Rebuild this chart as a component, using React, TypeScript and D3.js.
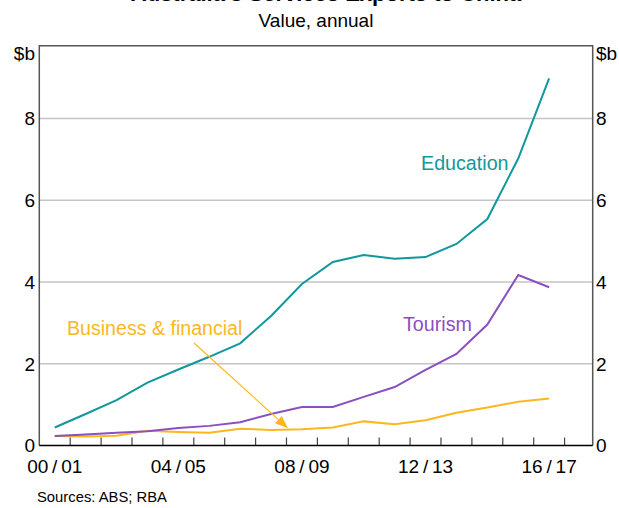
import React from "react";
import * as d3 from "d3";

const years = ["00/01","01/02","02/03","03/04","04/05","05/06","06/07","07/08","08/09","09/10","10/11","11/12","12/13","13/14","14/15","15/16","16/17"];
const education = [0.44,0.77,1.11,1.54,1.86,2.17,2.5,3.17,3.95,4.49,4.66,4.57,4.61,4.93,5.54,7.02,8.98];
const tourism = [0.23,0.27,0.31,0.35,0.43,0.48,0.57,0.77,0.94,0.94,1.19,1.43,1.85,2.24,2.96,4.17,3.87];
const business = [0.23,0.22,0.24,0.36,0.33,0.31,0.41,0.38,0.4,0.44,0.59,0.52,0.62,0.8,0.93,1.07,1.15];
const yTicks = [0,2,4,6,8];
const xLabelIdx = [0,4,8,12,16];

const W = 619, H = 508;
const left = 39.3, right = 592.7, top = 45.7, bottom = 445.5;
const font = "Arial, 'Liberation Sans', sans-serif";
const TEAL = "#12979d", PURPLE = "#8a4fc0", ORANGE = "#fdb71e";

export default function App() {
  const x = d3.scaleLinear().domain([0, 17.91]).range([left, right]);
  const y = d3.scaleLinear().domain([0, 9.78]).range([bottom, top]);
  const line = d3.line<number>().x((_, i) => x(i + 0.5)).y(d => y(d));
  const fmt = (s: string) => s.replace("/", "\u2009/\u2009");
  const tickIdx = d3.range(1, 18);
  // arrow geometry
  const ax1 = 194, ay1 = 343, ax2 = x(8.05), ay2 = y(0.42);
  const ang = Math.atan2(ay2 - ay1, ax2 - ax1);
  const hl = 13, hw = 5;
  const bx = ax2 - hl * Math.cos(ang), by = ay2 - hl * Math.sin(ang);
  const head = `${ax2},${ay2} ${bx + hw * Math.sin(ang)},${by - hw * Math.cos(ang)} ${bx - hw * Math.sin(ang)},${by + hw * Math.cos(ang)}`;
  return (
    <svg width={W} height={H} style={{ position: "absolute", left: 0, top: 0, background: "#fff" }} fontFamily={font}>
      <rect x={0} y={0} width={W} height={H} fill="#fff" />
      <text x={326} y={1} textAnchor="middle" fontSize={22} fontWeight="bold" fill="#000">Australia's Services Exports to China</text>
      <text x={316} y={27} textAnchor="middle" fontSize={19} fill="#000">Value, annual</text>
      {yTicks.filter(t => t > 0).map(t => (
        <line key={t} x1={left} x2={right} y1={y(t)} y2={y(t)} stroke="#c4c4c4" strokeWidth={1.5} />
      ))}
      {tickIdx.map(i => (
        <line key={i} x1={x(i)} x2={x(i)} y1={bottom} y2={bottom - 8} stroke="#444" strokeWidth={1.2} />
      ))}
      <path d={line(business) || ""} fill="none" stroke={ORANGE} strokeWidth={2} />
      <path d={line(tourism) || ""} fill="none" stroke={PURPLE} strokeWidth={2} />
      <path d={line(education) || ""} fill="none" stroke={TEAL} strokeWidth={2} />
      <line x1={ax1} y1={ay1} x2={bx} y2={by} stroke={ORANGE} strokeWidth={1.2} />
      <polygon points={head} fill={ORANGE} />
      <text x={421} y={170} fontSize={19.7} fill={TEAL}>Education</text>
      <text x={403} y={330.5} fontSize={19.7} fill={PURPLE}>Tourism</text>
      <text x={67} y={335} fontSize={19.6} fill={ORANGE}>Business &amp; financial</text>
      <path d={`M${left},${bottom}V${top}H${right}V${bottom}`} fill="none" stroke="#555" strokeWidth={1.5} />
      <line x1={left} x2={right} y1={bottom} y2={bottom} stroke="#000" strokeWidth={1.5} />
      {yTicks.map(t => (
        <g key={t}>
          <text x={35} y={y(t)} dy="0.36em" textAnchor="end" fontSize={19}>{t}</text>
          <text x={596} y={y(t)} dy="0.36em" textAnchor="start" fontSize={19}>{t}</text>
        </g>
      ))}
      <text x={35} y={y(9.78) + 7.5} dy="0.36em" textAnchor="end" fontSize={19}>$b</text>
      <text x={596} y={y(9.78) + 7.5} dy="0.36em" textAnchor="start" fontSize={19}>$b</text>
      {xLabelIdx.map(i => (
        <text key={i} x={x(i + 0.5)} y={473} textAnchor="middle" fontSize={19}>{fmt(years[i])}</text>
      ))}
      <text x={37} y={502} fontSize={14.8}>Sources: ABS; RBA</text>
    </svg>
  );
}
